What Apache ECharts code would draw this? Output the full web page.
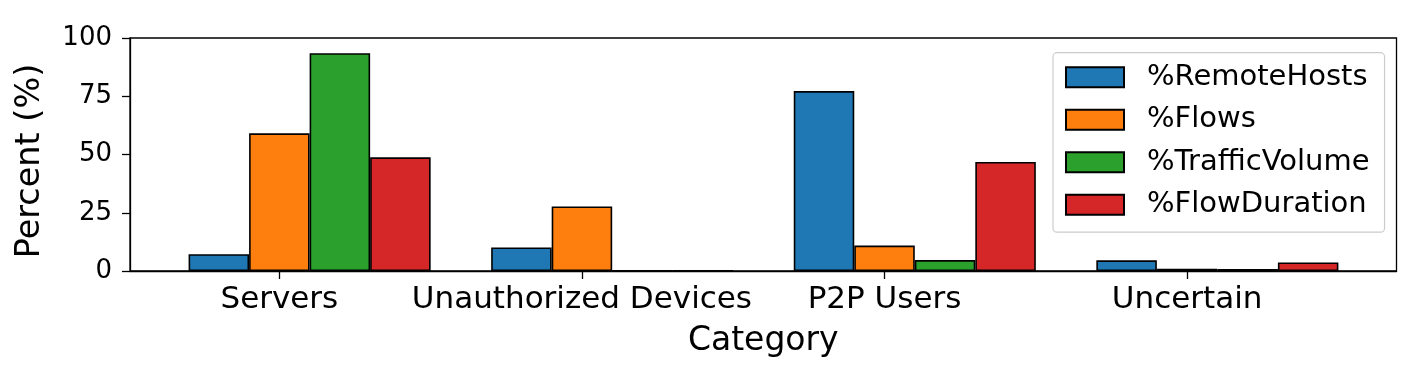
<!DOCTYPE html>
<html>
<head>
<meta charset="utf-8">
<script src="https://cdn.jsdelivr.net/npm/echarts@6/dist/echarts.min.js"></script>
<style>
html,body{margin:0;padding:0;background:#fff;}
#chart{width:1411px;height:371px;}
</style>
</head>
<body>
<div id="chart"></div>
<script>
const categories = ['Servers', 'Unauthorized Devices', 'P2P Users', 'Uncertain'];
const seriesNames = ['%RemoteHosts', '%Flows', '%TrafficVolume', '%FlowDuration'];
const remoteHosts = [7.2, 10.1, 77.2, 4.6];
const flows = [59.1, 27.7, 10.9, 1.0];
const trafficVolume = [93.5, 0.2, 4.7, 0.9];
const flowDuration = [48.8, 0.1, 46.8, 3.7];
const yTicks = [0, 25, 50, 75, 100];
const colors = ['#1f77b4', '#ff7f0e', '#2ca02c', '#d62728'];

const allValues = [remoteHosts, flows, trafficVolume, flowDuration];
const FONT = 'DejaVu Sans';
// ticks sit at the centre of the second bar of each group (half a bar left of group centre)
const TICK_SHIFT = -0.1;
const tickPos = categories.map((c, i) => i + TICK_SHIFT);

const chart = echarts.init(document.getElementById('chart'), null, {renderer: 'canvas'});
const option = {
  animation: false,
  textStyle: {fontFamily: FONT, color: '#000'},
  grid: {
    left: 130, right: 14.5, top: 38, bottom: 100,
    show: true, borderColor: '#000', borderWidth: 1.3, backgroundColor: 'transparent'
  },
  legend: {
    orient: 'vertical',
    left: 1053, top: 52.7,
    padding: [10, 15, 13, 12],
    itemWidth: 58, itemHeight: 20,
    itemGap: 13.5,
    icon: 'rect',
    backgroundColor: 'rgba(255,255,255,0.8)',
    borderColor: '#cccccc', borderWidth: 1.2, borderRadius: 4,
    textStyle: {fontFamily: FONT, fontSize: 29, color: '#000', padding: [0, 0, 0, 18]},
    itemStyle: {borderColor: '#000', borderWidth: 2},
    data: seriesNames
  },
  xAxis: {
    type: 'value',
    min: -0.5936, max: 3.592,
    name: 'Category', nameLocation: 'middle', nameGap: 54,
    nameTextStyle: {fontFamily: FONT, fontSize: 33, color: '#000'},
    axisLine: {show: true, onZero: false, lineStyle: {color: '#000', width: 1.3}},
    axisTick: {show: true, length: 8, customValues: tickPos, lineStyle: {color: '#000', width: 1.3}},
    axisLabel: {
      customValues: tickPos,
      fontFamily: FONT, fontSize: 31, color: '#000', margin: 13,
      formatter: v => categories[Math.round(v - TICK_SHIFT)] || ''
    },
    splitLine: {show: false}
  },
  yAxis: {
    type: 'value',
    min: 0, max: 100, interval: 25,
    name: 'Percent (%)', nameLocation: 'middle', nameGap: 83, nameRotate: 90,
    nameTextStyle: {fontFamily: FONT, fontSize: 33.5, color: '#000', padding: [0, 13, 0, 0]},
    axisLine: {show: true, onZero: false, lineStyle: {color: '#000', width: 1.3}},
    axisTick: {show: true, length: 8, lineStyle: {color: '#000', width: 1.3}},
    axisLabel: {
      fontFamily: FONT, fontSize: 26, color: '#000', margin: 18,
      customValues: yTicks
    },
    splitLine: {show: false}
  },
  series: seriesNames.map((name, s) => ({
    name: name,
    type: 'bar',
    barGap: '0%',
    barCategoryGap: '20%',
    itemStyle: {color: colors[s], borderColor: '#000', borderWidth: 1.6},
    data: allValues[s].map((v, i) => [i, v])
  }))
};
chart.setOption(option);
</script>
</body>
</html>
